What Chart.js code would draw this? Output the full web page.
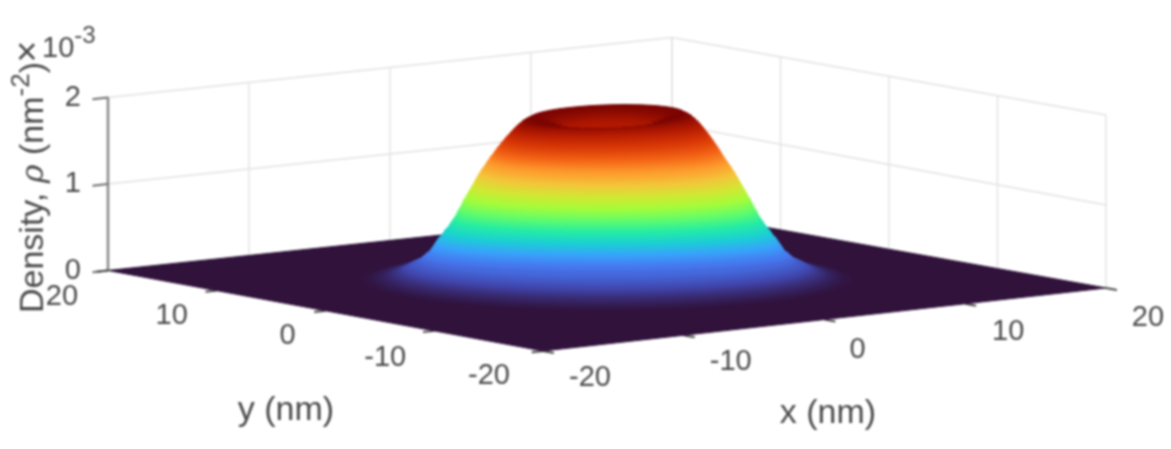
<!DOCTYPE html>
<html>
<head>
<meta charset="utf-8">
<style>
html,body{margin:0;padding:0;background:#fff;overflow:hidden}
#wrap{width:1171px;height:449px}
canvas{display:block;filter:blur(0.9px)}
</style>
<script src="https://cdn.jsdelivr.net/npm/chart.js@4/dist/chart.umd.min.js"></script>
</head>
<body>
<div id="wrap"><canvas id="c" width="1171" height="449"></canvas></div>
<script>
// ---------- values ----------
const xTicks = [-20, -10, 0, 10, 20];
const yTicks = [-20, -10, 0, 10, 20];
const zTicks = [0, 1, 2];
const densityMax = 1.9;

// Outer flank of the density dome (density in 1e-3 nm^-2, extents in nm)
const flankDensity = [0.005,0.01,0.02,0.03,0.04,0.05,0.06,0.07,0.08,0.09,0.10,0.11,0.12,0.13,0.14,0.15,0.16,0.17,0.18,0.19,0.20,0.22,0.24,0.27,0.30,0.33,0.36,0.39,0.42,0.45,0.48,0.51,0.54,0.57,0.60,0.63,0.66,0.69,0.72,0.75,0.78,0.81,0.84,0.87,0.90,0.93,0.96,0.99,1.02,1.05,1.08,1.11,1.14,1.17,1.20,1.23,1.26,1.29,1.32,1.35,1.38,1.41,1.44,1.47,1.50,1.53,1.56,1.59,1.62,1.65,1.68,1.71,1.74,1.77,1.80,1.83,1.86,1.88,1.90];
const flankWide = [13.8,13.5,13.2,12.95,12.7,12.5,12.35,12.2,12.05,11.92,11.8,11.7,11.6,11.5,11.4,11.3,11.2,11.12,11.05,10.92,10.8,10.65,10.5,10.35,10.2,10.0,9.9,9.8,9.7,9.6,9.5,9.35,9.25,9.15,9.0,8.9,8.8,8.7,8.6,8.5,8.45,8.35,8.27,8.2,8.12,8.05,7.95,7.87,7.79,7.7,7.62,7.53,7.45,7.37,7.28,7.2,7.1,7.0,6.9,6.8,6.7,6.6,6.5,6.4,6.3,6.2,6.09,5.98,5.87,5.76,5.64,5.52,5.4,5.27,5.13,4.97,4.78,4.6,4.35];
const flankDeep = [12.4,12.0,11.6,11.2,10.8,10.45,10.1,9.8,9.5,9.3,9.1,8.95,8.8,8.6,8.4,8.2,8.0,7.85,7.7,7.5,7.3,7.0,6.5,5.5,5.0,4.8,4.75,4.7,4.7,4.7,4.7,4.7,4.7,4.75,4.75,4.75,4.8,4.8,4.8,4.8,4.8,4.8,4.8,4.85,4.85,4.85,4.9,4.9,4.9,4.9,4.9,4.9,4.85,4.85,4.85,4.8,4.8,4.8,4.8,4.6,4.45,4.3,4.2,4.15,4.1,4.1,4.0,3.9,3.8,3.6,3.4,3.2,3.1,3.0,3.0,3.1,3.5,3.9,4.3];

// Crater inside the rim, rim to centre
const craterDensity = [1.895,1.885,1.865,1.84,1.815,1.79,1.775,1.765,1.76];
const craterRadius = [4.1,3.8,3.5,3.2,2.9,2.6,2.2,1.6,0.8];

// Turbo colour map stops
const turboStops = ['#30123b','#4145ab','#4675ed','#39a2fc','#1bcfd4','#24eca6','#61fc6c','#a4fc3b','#d1e834','#f3c63a','#fe9b2d','#f36315','#d93806','#b11901','#7a0402'];

// ---------- view of the 3-D box (corner = [screenX, screenY] of the floor) ----------
const cornerFront = [543, 351];   // x=-20, y=-20
const cornerLeft  = [108, 270.5]; // x=-20, y= 20
const cornerRight = [1106, 288];  // x= 20, y=-20
const cornerBack  = [672, 210.5]; // x= 20, y= 20
const zPerUnit = 86.5;
const wideDir = [0.794, -0.608];  // floor direction seen as horizontal
const deepDir = [0.608, 0.794];   // floor direction seen as depth
const rimTilt = 0.23;             // the rim leans up toward the right
const tiltFrom = 1.4;             // density where the lean begins
const rightWallMidEnd = 0.96;     // height where the z=1 grid line meets the right edge in the picture

function project(x, y, z) {
  const u = (x + 20) / 40, v = (y + 20) / 40;
  const px = (1-u)*(1-v)*cornerFront[0] + u*(1-v)*cornerRight[0] + (1-u)*v*cornerLeft[0] + u*v*cornerBack[0];
  const py = (1-u)*(1-v)*cornerFront[1] + u*(1-v)*cornerRight[1] + (1-u)*v*cornerLeft[1] + u*v*cornerBack[1];
  return {x: px, y: py - z * zPerUnit};
}
function hex(c){return [1,3,5].map(i=>parseInt(c.substr(i,2),16));}
function turbo(t){
  t = Math.max(0, Math.min(1, t)) * (turboStops.length - 1);
  const i = Math.min(Math.floor(t), turboStops.length - 2), f = t - i;
  const a = hex(turboStops[i]), b = hex(turboStops[i+1]);
  return 'rgb(' + a.map((v,k)=>Math.round(v + (b[k]-v)*f)).join(',') + ')';
}
function ring(wide, deep, z, from, to, steps){
  const lean = rimTilt * Math.max(0, Math.min(1, (z - tiltFrom) / (densityMax - tiltFrom)));
  const pts = [];
  for (let k = 0; k <= steps; k++){
    const a = from + (to - from) * k / steps;
    const p = wide * Math.cos(a), q = deep * Math.sin(a) + lean * wide * Math.cos(a);
    pts.push(project(p*wideDir[0] + q*deepDir[0], p*wideDir[1] + q*deepDir[1], z));
  }
  return pts;
}

const datasets = [];
function addLine(data, color, width){
  datasets.push({data, borderColor: color, borderWidth: width, showLine: true, pointRadius: 0, fill: false, tension: 0, borderCapStyle: 'butt'});
}
function addShape(data, color){
  datasets.push({data, borderColor: color, backgroundColor: color, borderWidth: 1, showLine: true, pointRadius: 0, fill: 'shape', tension: 0});
}

// back walls: grid lines
const gridColor = '#e2e2e2';
xTicks.forEach(t => addLine([project(t,20,0), project(t,20,2)], gridColor, 1.4));
yTicks.forEach(t => addLine([project(20,t,0), project(20,t,2)], gridColor, 1.4));
zTicks.forEach(t => {
  addLine([project(-20,20,t), project(20,20,t), project(20,-20,t === 1 ? rightWallMidEnd : t)], gridColor, 1.4);
});
// z axis
addLine([project(-20,20,0), project(-20,20,2)], '#8a8a8a', 2.6);
zTicks.forEach(t => addLine([project(-21.1,20,t), project(-20,20,t)], '#6e6e6e', 2));

// floor ticks (mostly behind the floor edge)
const tickColor = '#4a4a4a';
xTicks.forEach(t => addLine([project(t,-20,0), project(t,-21,0)], tickColor, 2));
yTicks.forEach(t => addLine([project(-20,t,0), project(-20.8,t,0)], tickColor, 2));

// floor
addShape([project(-20,-20,0), project(20,-20,0), project(20,20,0), project(-20,20,0), project(-20,-20,0)], turbo(0));

// surface, bottom to top
flankDensity.forEach((z,i) => addShape(ring(flankWide[i], flankDeep[i], z, 0, 2*Math.PI, 96), turbo(z/densityMax)));
// crater: far half of each ring, rim to centre
craterDensity.forEach((z,i) => addShape(ring(craterRadius[i], craterRadius[i], z, 0, Math.PI, 64), turbo(z/densityMax)));

datasets.forEach((d,i) => { d.order = -i; });

// ---------- text ----------
const face = '"Liberation Sans", Arial, Helvetica, sans-serif';
const textColor = '#4a4a4a';
// hand adjustments of the tick labels, same order as the ticks
const xLabelNudge = [[0,0],[0,0],[-14,3],[-4,1],[-5,3]];
const yLabelNudge = [[-7,-1],[-2,1],[9,-1],[2,-1],[1,0]];
function run(ctx, x, y, rot, pieces){
  ctx.save();
  ctx.translate(x, y);
  ctx.rotate(rot);
  ctx.textAlign = 'left';
  ctx.textBaseline = 'alphabetic';
  let at = 0;
  pieces.forEach(p => {
    ctx.font = (p.italic ? 'italic ' : '') + p.size + 'px ' + (p.face || face);
    ctx.fillText(p.text, at, p.rise ? -p.rise : 0);
    at += ctx.measureText(p.text).width;
  });
  ctx.restore();
}
const textPlugin = {
  id: 'axisText',
  afterDatasetsDraw(chart){
    const ctx = chart.ctx, sx = chart.scales.x, sy = chart.scales.y;
    ctx.save();
    ctx.fillStyle = textColor;
    ctx.textAlign = 'center';
    ctx.textBaseline = 'middle';
    ctx.font = '29px ' + face;
    const put = (t, p, dx, dy) => ctx.fillText(String(t), sx.getPixelForValue(p.x) + dx, sy.getPixelForValue(p.y) + dy);
    xTicks.forEach((t,i) => put(t, project(t,-20,0), 47 + xLabelNudge[i][0], 27 + xLabelNudge[i][1]));
    yTicks.forEach((t,i) => put(t, project(-20,t,0), -47 + yLabelNudge[i][0], 26 + yLabelNudge[i][1]));
    ctx.textAlign = 'right';
    zTicks.forEach(t => put(t, project(-20,20,t), -27, 0));
    ctx.textAlign = 'center';
    ctx.font = '34px ' + face;
    ctx.fillText('y (nm)', 286, 411);
    ctx.fillText('x (nm)', 828, 414);
    run(ctx, 43, 313, -Math.PI/2, [
      {text:'Density, ', size:34},
      {text:'\u03C1', size:32, italic:true, face:'"DejaVu Serif", serif'},
      {text:' (nm', size:34},
      {text:'-2', size:26, rise:14},
      {text:')', size:34}
    ]);
    run(ctx, 16, 64, 0, [{text:'\u00D7', size:37}]);
    run(ctx, 42, 57, 0, [
      {text:'10', size:29},
      {text:'-3', size:24, rise:14}
    ]);
    ctx.restore();
  }
};

new Chart(document.getElementById('c'), {
  type: 'scatter',
  data: {datasets},
  plugins: [textPlugin],
  options: {
    responsive: false,
    animation: false,
    events: [],
    layout: {padding: 0},
    plugins: {legend: {display: false}, tooltip: {enabled: false}},
    scales: {
      x: {type: 'linear', display: false, min: 0, max: 1171},
      y: {type: 'linear', display: false, min: 0, max: 449, reverse: true}
    }
  }
});
</script>
</body>
</html>
